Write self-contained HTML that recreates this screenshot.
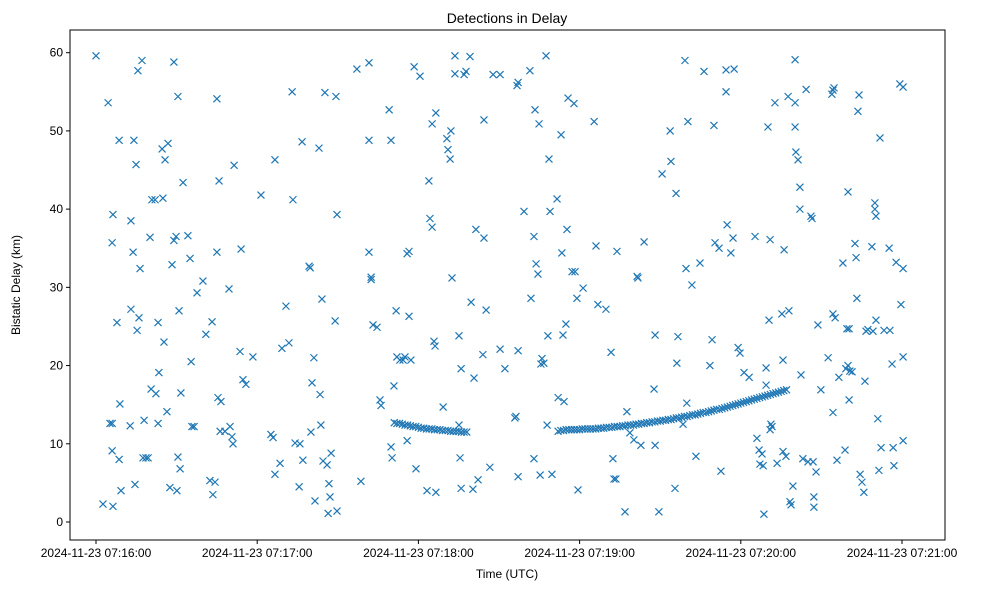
<!DOCTYPE html>
<html><head><meta charset="utf-8"><style>
body{margin:0;background:#fff;}
svg text{font-family:"Liberation Sans","DejaVu Sans",sans-serif;fill:#000;}
</style></head><body>
<svg id="chart" width="984" height="590" xmlns="http://www.w3.org/2000/svg">
<text x="507" y="23" font-size="14" text-anchor="middle">Detections in Delay</text>
<text x="507" y="578" font-size="12" text-anchor="middle">Time (UTC)</text>
<text transform="translate(20,285) rotate(-90)" font-size="12" text-anchor="middle">Bistatic Delay (km)</text>
<g id="marks"></g>
<g id="axes"></g>
<rect x="70" y="30" width="875" height="510" fill="none" stroke="#000" stroke-width="1"/>
</svg>
<script>
const xTickValues=[0,60,120,180,240,300];
const xTickLabels=["2024-11-23 07:16:00","2024-11-23 07:17:00","2024-11-23 07:18:00","2024-11-23 07:19:00","2024-11-23 07:20:00","2024-11-23 07:21:00"];
const yTickValues=[0,10,20,30,40,50,60];
const track1=[[111,12.7],[112,12.6],[113,12.6],[114,12.5],[115,12.4],[116,12.4],[117,12.3],[118,12.2],[119,12.2],[120,12.1],[121,12.0],[122,12.0],[123,11.9],[124,11.9],[125,11.9],[126,11.8],[127,11.8],[128,11.8],[129,11.7],[130,11.7],[131,11.7],[132,11.6],[133,11.6],[134,11.6],[135,11.6],[136,11.5],[137,11.5],[138,11.5]];
const track2=[[172,11.6],[173,11.7],[174,11.7],[175,11.8],[176,11.8],[177,11.8],[178,11.8],[179,11.8],[180,11.8],[181,11.9],[182,11.9],[183,11.9],[184,11.9],[185,11.9],[186,11.9],[187,12.0],[188,12.0],[189,12.0],[190,12.1],[191,12.1],[192,12.1],[193,12.2],[194,12.2],[195,12.2],[196,12.3],[197,12.3],[198,12.4],[199,12.4],[200,12.4],[201,12.5],[202,12.5],[203,12.6],[204,12.6],[205,12.7],[206,12.7],[207,12.8],[208,12.8],[209,12.9],[210,12.9],[211,13.0],[212,13.0],[213,13.1],[214,13.1],[215,13.2],[216,13.3],[217,13.3],[218,13.4],[219,13.5],[220,13.5],[221,13.6],[222,13.7],[223,13.7],[224,13.8],[225,13.9],[226,14.0],[227,14.0],[228,14.1],[229,14.2],[230,14.3],[231,14.4],[232,14.4],[233,14.5],[234,14.6],[235,14.7],[236,14.8],[237,14.9],[238,15.0],[239,15.1],[240,15.2],[241,15.3],[242,15.4],[243,15.5],[244,15.6],[245,15.7],[246,15.8],[247,15.9],[248,16.0],[249,16.1],[250,16.2],[251,16.3],[252,16.4],[253,16.5],[254,16.6],[255,16.7],[256,16.8],[257,16.9]];
const scatter=[[0,59.6],[2.6,2.3],[4.5,53.6],[5.2,12.6],[6.0,12.6],[6.0,35.7],[6.0,9.1],[6.3,39.3],[6.3,2.0],[7.8,25.5],[8.6,8.0],[8.6,48.8],[8.9,15.1],[9.3,4.0],[12.7,12.3],[13.0,38.5],[13.0,27.2],[13.8,34.5],[14.1,48.8],[14.5,4.8],[14.9,45.7],[15.3,24.5],[15.6,57.7],[16.0,26.1],[16.4,32.4],[17.1,59.0],[17.5,8.2],[18.6,8.2],[19.4,8.2],[17.9,13.0],[20.1,36.4],[20.5,17.0],[20.8,41.2],[22.0,41.2],[22.3,16.4],[23.1,12.6],[23.1,25.5],[23.4,19.1],[24.6,47.7],[24.9,41.4],[25.3,23.0],[25.7,46.3],[26.4,14.1],[26.8,48.4],[27.5,4.4],[28.3,32.9],[29.0,58.8],[29.0,36.0],[29.8,36.5],[30.1,4.0],[30.5,8.3],[30.5,54.4],[30.9,27.0],[31.3,6.8],[31.6,16.5],[32.4,43.4],[34.2,36.6],[35.0,33.7],[35.4,20.5],[35.7,12.2],[36.5,12.2],[37.6,29.3],[39.8,30.8],[40.9,24.0],[42.4,5.3],[43.2,25.6],[43.5,3.5],[44.3,5.1],[45.0,54.1],[45.0,34.5],[45.4,15.9],[45.8,43.6],[46.2,11.6],[46.5,15.4],[48.0,11.6],[49.5,29.8],[49.9,12.2],[50.6,10.9],[51.0,10.0],[51.4,45.6],[53.6,21.8],[54.0,34.9],[54.7,18.2],[55.8,17.6],[58.4,21.1],[61.4,41.8],[65.1,11.2],[65.9,10.8],[66.6,6.1],[66.6,46.3],[68.5,7.5],[69.2,22.2],[70.7,27.6],[71.8,22.9],[73.0,55.0],[73.3,41.2],[74.1,10.1],[75.6,4.5],[75.9,10.0],[76.7,48.6],[77.0,7.9],[79.3,32.7],[79.7,32.5],[80.0,11.5],[80.4,17.8],[81.1,21.0],[81.5,2.7],[83.0,47.8],[83.4,16.3],[83.7,12.4],[84.1,28.5],[84.5,7.8],[85.2,54.9],[86.0,7.3],[86.4,1.1],[86.7,4.9],[87.1,3.2],[87.5,8.8],[89.0,25.7],[89.3,54.4],[89.7,1.4],[89.7,39.3],[97.1,57.9],[98.6,5.2],[101.6,34.5],[101.6,58.7],[101.6,48.8],[102.4,31.3],[102.4,31.0],[103.1,25.2],[104.6,24.9],[105.7,15.6],[106.1,14.9],[109.1,52.7],[109.8,48.8],[109.8,9.6],[110.2,8.2],[110.9,17.4],[111.7,27.0],[112.0,21.1],[113.1,20.7],[114.3,20.7],[115.0,21.1],[115.8,10.4],[115.8,34.3],[116.5,34.6],[116.5,26.3],[117.2,20.7],[118.4,58.2],[119.1,6.8],[120.6,57.0],[123.2,4.0],[123.9,43.6],[124.3,38.8],[125.1,37.7],[125.1,50.9],[125.8,23.1],[126.2,22.5],[126.5,52.3],[126.5,3.8],[129.2,14.7],[130.6,49.0],[131.0,47.6],[131.8,46.4],[132.1,50.0],[132.5,31.2],[133.6,59.6],[133.6,57.3],[135.1,12.4],[135.1,23.8],[135.5,8.2],[135.9,4.3],[135.9,19.6],[137.0,57.2],[137.7,57.6],[139.2,59.5],[139.6,28.1],[140.3,4.2],[140.7,18.4],[141.4,37.4],[142.2,5.4],[144.0,21.4],[144.4,36.3],[144.4,51.4],[145.2,27.1],[146.6,7.0],[147.8,57.2],[150.4,57.2],[150.4,22.1],[152.2,19.6],[155.9,13.3],[156.3,13.5],[156.7,55.8],[157.1,56.2],[157.1,5.8],[157.1,21.9],[159.3,39.7],[161.5,57.7],[161.9,28.6],[163.0,8.1],[163.0,36.5],[163.4,52.7],[163.8,33.0],[164.5,31.7],[164.9,50.9],[165.3,6.0],[165.6,20.2],[166.0,20.9],[166.7,20.3],[167.5,59.6],[167.9,12.4],[168.2,23.8],[168.6,46.4],[169.0,39.7],[169.7,6.1],[171.6,41.3],[172.0,15.9],[173.1,49.5],[173.4,34.4],[173.8,23.9],[174.2,15.4],[174.9,25.3],[175.3,37.4],[175.7,54.2],[177.2,32.0],[177.9,53.5],[178.3,32.0],[179.0,28.6],[179.4,4.1],[181.3,29.9],[185.4,51.2],[186.1,35.3],[186.8,27.8],[189.8,27.2],[191.7,21.7],[192.4,8.1],[192.8,5.5],[193.5,5.5],[193.9,34.6],[196.9,1.3],[197.6,14.1],[198.7,11.4],[200.2,10.5],[201.4,31.4],[201.7,31.2],[202.8,9.8],[204.0,35.8],[207.7,17.0],[208.1,23.9],[208.1,9.8],[209.5,1.3],[210.7,44.5],[213.7,50.0],[214.0,46.1],[215.5,4.3],[215.9,42.0],[216.2,20.3],[216.6,23.7],[218.5,12.5],[219.2,59.0],[219.6,32.4],[219.9,15.2],[220.3,51.2],[221.8,30.3],[223.3,8.4],[224.8,33.1],[226.3,57.6],[228.5,20.0],[229.3,23.3],[230.0,50.7],[230.4,35.7],[231.9,35.0],[232.6,6.5],[234.5,57.8],[234.5,55.0],[234.9,38.0],[236.3,34.4],[237.1,36.3],[237.5,57.9],[239.0,22.3],[239.7,21.6],[241.2,19.1],[243.1,18.5],[245.3,36.5],[246.0,10.7],[246.8,9.2],[247.1,7.4],[247.9,8.7],[248.3,7.2],[248.6,1.0],[249.4,19.7],[249.4,17.5],[250.1,50.5],[250.5,25.8],[250.9,36.1],[251.2,12.5],[251.6,12.2],[250.9,11.8],[252.7,53.6],[253.5,7.5],[255.3,26.6],[255.7,20.7],[255.7,9.0],[256.1,34.8],[256.8,8.4],[257.6,54.4],[257.9,27.0],[258.3,2.6],[258.7,2.2],[259.4,4.6],[260.2,59.1],[260.2,50.5],[260.2,53.6],[260.5,47.3],[261.3,46.3],[262.0,42.8],[262.0,40.0],[262.4,18.8],[263.1,8.1],[264.3,55.3],[265.0,7.7],[266.1,39.1],[266.5,38.8],[266.9,7.7],[267.2,3.2],[267.2,1.9],[268.0,6.4],[268.7,25.2],[269.8,16.9],[272.5,21.0],[274.3,55.2],[273.9,54.7],[274.7,55.5],[274.3,14.0],[274.3,26.6],[275.1,26.1],[275.8,7.9],[276.5,18.5],[278.0,33.1],[278.8,9.2],[279.5,24.7],[280.3,24.7],[279.9,42.2],[280.3,15.6],[280.6,19.3],[279.9,20.0],[281.4,19.2],[279.1,19.6],[282.5,35.6],[282.9,33.8],[283.2,28.6],[283.6,52.5],[284.0,54.6],[284.4,6.1],[285.1,5.1],[285.8,3.8],[286.2,18.0],[286.6,24.4],[287.3,24.6],[288.8,35.2],[289.2,24.4],[289.9,40.0],[290.3,39.1],[289.9,40.8],[290.3,25.8],[291.4,6.6],[291.0,13.2],[291.8,49.1],[292.2,9.5],[293.3,24.5],[295.2,35.0],[295.5,24.5],[296.3,20.2],[296.7,9.5],[297.0,7.2],[297.8,33.2],[299.2,56.0],[299.6,27.8],[300.4,55.6],[300.4,21.1],[300.4,10.4],[300.4,32.4]];

const X0=70,X1=945,Y0=540,Y1=30;
const tMin=-9.68,tMax=316.0,dMin=-2.3,dMax=62.9;
function xs(t){return X0+(t-tMin)/(tMax-tMin)*(X1-X0);}
function ys(d){return Y0-(d-dMin)/(dMax-dMin)*(Y0-Y1);}
const NS="http://www.w3.org/2000/svg";
const axes=document.getElementById('axes');
const marks=document.getElementById('marks');
function mk(tag,attrs,parent){const e=document.createElementNS(NS,tag);for(const k in attrs)e.setAttribute(k,attrs[k]);parent.appendChild(e);return e;}
xTickValues.forEach((v,i)=>{
  const x=xs(v);
  const tk=mk('line',{x1:x,x2:x,y1:Y0,y2:Y0+4,stroke:'#000'},axes);
  
  
  const tx=mk('text',{x:x,y:Y0+17,'font-size':12,'text-anchor':'middle'},axes);
  tx.textContent=xTickLabels[i];
  
  
});
yTickValues.forEach(v=>{
  const y=ys(v);
  const tk=mk('line',{x1:X0-4,x2:X0,y1:y,y2:y,stroke:'#000'},axes);
  
  
  const tx=mk('text',{x:X0-7,y:y+4,'font-size':12,'text-anchor':'end'},axes);
  tx.textContent=String(v);
  
  
});
function drawX(t,d){
  const x=xs(t),y=ys(d),r=3.5;
  const p=mk('path',{d:`M${x-r},${y-r}L${x+r},${y+r}M${x-r},${y+r}L${x+r},${y-r}`,stroke:'#1f77b4','stroke-width':1.2,fill:'none'},marks);
  
  
}
scatter.forEach(p=>drawX(p[0],p[1]));
track1.forEach(p=>drawX(p[0],p[1]));
track2.forEach(p=>drawX(p[0],p[1]));
</script>
</body></html>
